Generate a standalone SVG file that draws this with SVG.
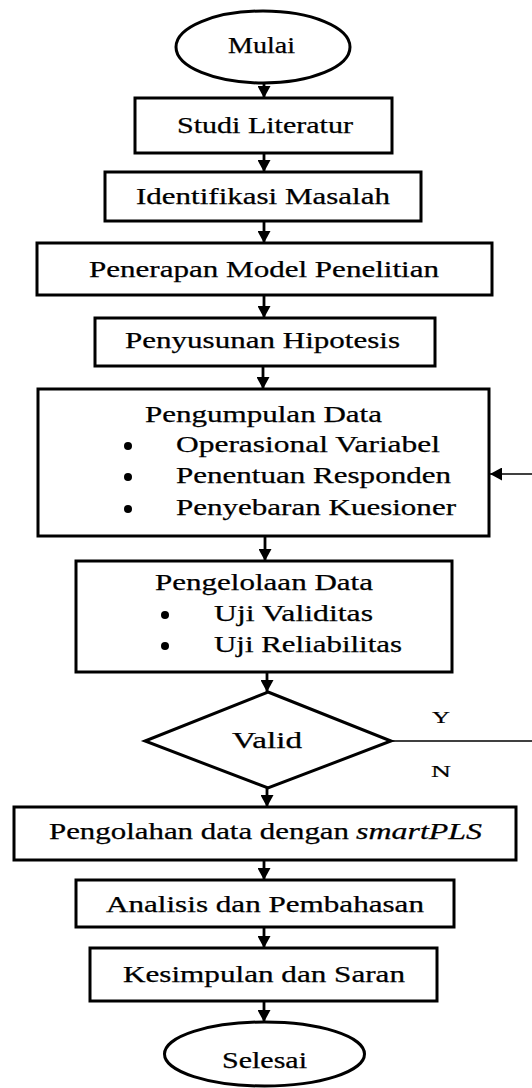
<svg xmlns="http://www.w3.org/2000/svg" width="532" height="1088" viewBox="0 0 532 1088">
<style>
.box{fill:#fff;stroke:#000;stroke-width:3}
.t{font-family:"Liberation Serif","Times New Roman",serif;font-size:22.5px;fill:#000;stroke:#000;stroke-width:0.25}
.s{font-family:"Liberation Serif","Times New Roman",serif;font-size:16px;fill:#000;stroke:#000;stroke-width:0.2}
.c{stroke:#000;stroke-width:2.8;fill:none}
.thin{stroke:#000;stroke-width:1.4;fill:none}
</style>
<defs>
<marker id="ah" markerWidth="14" markerHeight="13" refX="12" refY="6.5" orient="auto" markerUnits="userSpaceOnUse">
<path d="M0,0 L12,6.5 L0,13 Z" fill="#000"/>
</marker>
</defs>
<rect width="532" height="1088" fill="#fff"/>
<g id="connectors">
<line class="c" x1="264" y1="83" x2="264" y2="98" marker-end="url(#ah)"/>
<line class="c" x1="264" y1="153" x2="264" y2="172" marker-end="url(#ah)"/>
<line class="c" x1="264" y1="221" x2="264" y2="243" marker-end="url(#ah)"/>
<line class="c" x1="264" y1="295" x2="264" y2="318" marker-end="url(#ah)"/>
<line class="c" x1="263" y1="366" x2="263" y2="389" marker-end="url(#ah)"/>
<line class="c" x1="265" y1="536" x2="265" y2="561" marker-end="url(#ah)"/>
<line class="c" x1="267" y1="672" x2="267" y2="692" marker-end="url(#ah)"/>
<line class="c" x1="267" y1="788" x2="267" y2="807" marker-end="url(#ah)"/>
<line class="c" x1="264" y1="860" x2="264" y2="880" marker-end="url(#ah)"/>
<line class="c" x1="264" y1="927" x2="264" y2="948" marker-end="url(#ah)"/>
<line class="c" x1="264" y1="1001" x2="264" y2="1022" marker-end="url(#ah)"/>
<line class="thin" x1="391" y1="741" x2="532" y2="741"/>
<line class="thin" x1="532" y1="474" x2="490" y2="474" marker-end="url(#ah)"/>
<text class="s" x="432" y="723" textLength="18" lengthAdjust="spacingAndGlyphs">Y</text>
<text class="s" x="431" y="777" textLength="20" lengthAdjust="spacingAndGlyphs">N</text>
</g>
<g id="mulai">
<ellipse class="box" cx="263" cy="47" rx="87" ry="36"/>
<text class="t" x="228" y="53" textLength="67" lengthAdjust="spacingAndGlyphs">Mulai</text>
</g>
<g id="studi">
<rect class="box" x="135" y="98" width="257" height="55"/>
<text class="t" x="177" y="133" textLength="176" lengthAdjust="spacingAndGlyphs">Studi Literatur</text>
</g>
<g id="identifikasi">
<rect class="box" x="105" y="172" width="316" height="49"/>
<text class="t" x="136" y="204" textLength="254" lengthAdjust="spacingAndGlyphs">Identifikasi Masalah</text>
</g>
<g id="penerapan">
<rect class="box" x="37" y="243" width="455" height="52"/>
<text class="t" x="89" y="277" textLength="350" lengthAdjust="spacingAndGlyphs">Penerapan Model Penelitian</text>
</g>
<g id="penyusunan">
<rect class="box" x="95" y="318" width="340" height="48"/>
<text class="t" x="125" y="348" textLength="275" lengthAdjust="spacingAndGlyphs">Penyusunan Hipotesis</text>
</g>
<g id="pengumpulan">
<rect class="box" x="38" y="389" width="451" height="147"/>
<text class="t" x="145" y="422" textLength="237" lengthAdjust="spacingAndGlyphs">Pengumpulan Data</text>
<circle cx="128" cy="446" r="4"/>
<text class="t" x="176" y="452" textLength="264" lengthAdjust="spacingAndGlyphs">Operasional Variabel</text>
<circle cx="128" cy="477" r="4"/>
<text class="t" x="176" y="483" textLength="275" lengthAdjust="spacingAndGlyphs">Penentuan Responden</text>
<circle cx="128" cy="509" r="4"/>
<text class="t" x="176" y="515" textLength="280" lengthAdjust="spacingAndGlyphs">Penyebaran Kuesioner</text>
</g>
<g id="pengelolaan">
<rect class="box" x="76" y="561" width="376" height="111"/>
<text class="t" x="155" y="590" textLength="218" lengthAdjust="spacingAndGlyphs">Pengelolaan Data</text>
<circle cx="165" cy="615" r="4"/>
<text class="t" x="214" y="621" textLength="159" lengthAdjust="spacingAndGlyphs">Uji Validitas</text>
<circle cx="165" cy="646" r="4"/>
<text class="t" x="214" y="652" textLength="188" lengthAdjust="spacingAndGlyphs">Uji Reliabilitas</text>
</g>
<g id="valid">
<polygon class="box" points="268,692 391,741 268,788 145,741"/>
<text class="t" x="232" y="748" textLength="70" lengthAdjust="spacingAndGlyphs">Valid</text>
</g>
<g id="pengolahan">
<rect class="box" x="14" y="807" width="502" height="53"/>
<text class="t" x="49" y="839" textLength="300" lengthAdjust="spacingAndGlyphs">Pengolahan data dengan</text>
<text class="t" x="356" y="839" font-style="italic" textLength="126" lengthAdjust="spacingAndGlyphs">smartPLS</text>
</g>
<g id="analisis">
<rect class="box" x="76" y="880" width="378" height="47"/>
<text class="t" x="106" y="912" textLength="318" lengthAdjust="spacingAndGlyphs">Analisis dan Pembahasan</text>
</g>
<g id="kesimpulan">
<rect class="box" x="90" y="948" width="347" height="53"/>
<text class="t" x="123" y="982" textLength="282" lengthAdjust="spacingAndGlyphs">Kesimpulan dan Saran</text>
</g>
<g id="selesai">
<ellipse class="box" cx="264.5" cy="1054" rx="100" ry="32"/>
<text class="t" x="222" y="1068" textLength="85" lengthAdjust="spacingAndGlyphs">Selesai</text>
</g>
</svg>
